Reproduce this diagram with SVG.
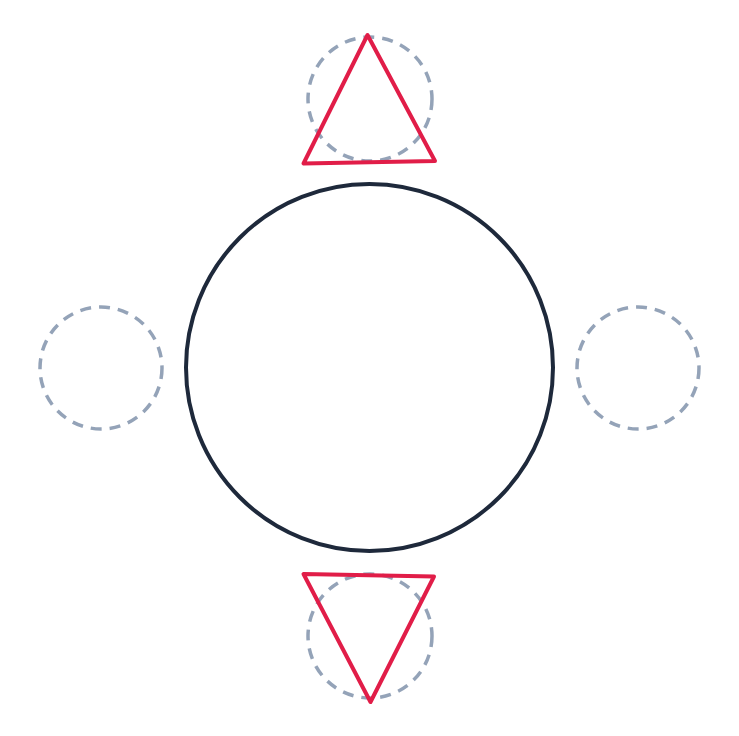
<svg xmlns="http://www.w3.org/2000/svg" width="739" height="736" viewBox="0 0 739 736">
<style>
.guide{fill:none;stroke:#94a3b8;stroke-width:3.5;stroke-dasharray:11 8}
.main{fill:none;stroke:#1e293b;stroke-width:4}
.tri{fill:none;stroke:#e11d48;stroke-width:4;stroke-linejoin:round;stroke-linecap:round}
</style>
<rect width="739" height="736" fill="#ffffff"/>
<g id="guide-top"><circle class="guide" cx="370" cy="99" r="62"/></g>
<g id="guide-left"><circle class="guide" cx="101" cy="368" r="61"/></g>
<g id="guide-right"><circle class="guide" cx="638" cy="368" r="61"/></g>
<g id="guide-bottom"><circle class="guide" cx="370" cy="636" r="62"/></g>
<g id="main-circle"><circle class="main" cx="369.5" cy="367.5" r="183.5"/></g>
<g id="triangle-top"><polygon class="tri" points="367.5,35 303.5,163.5 435,161"/></g>
<g id="triangle-bottom"><polygon class="tri" points="303.5,574 434,576.5 370.5,702"/></g>
<g id="connectors"></g>
</svg>
